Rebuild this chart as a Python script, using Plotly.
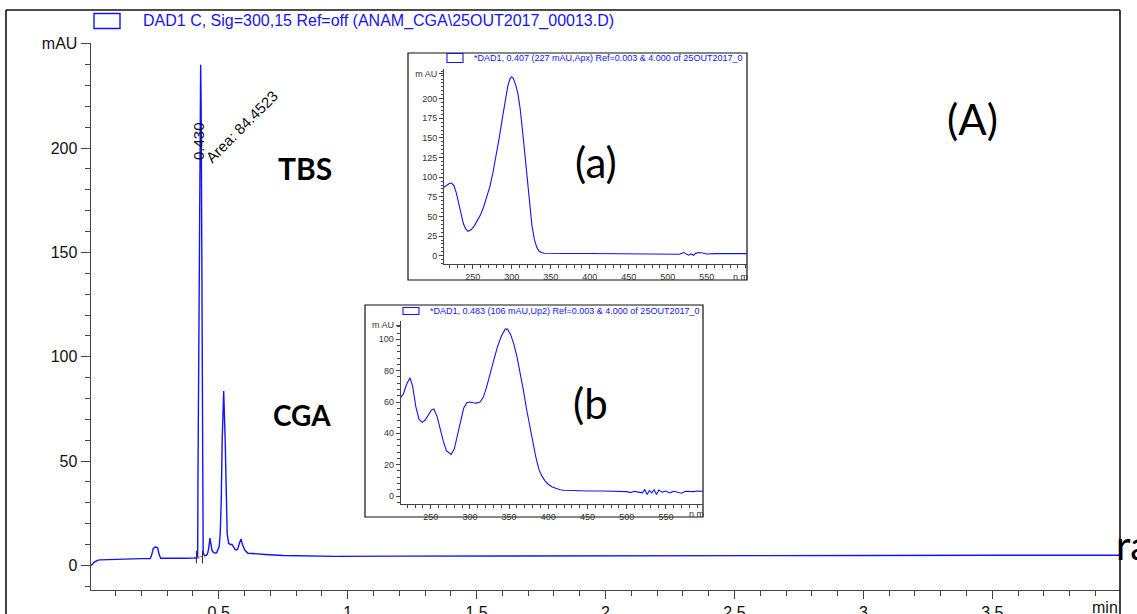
import plotly.graph_objects as go

W, H = 1137, 614

# ---------------- data ----------------
# main chromatogram (time in min, absorbance in mAU)
chrom_time = [0.0036, 0.010, 0.016, 0.022, 0.030, 0.039, 0.08, 0.14, 0.20, 0.2344, 0.2402, 0.2460,
              0.2546, 0.2635, 0.2693, 0.2752, 0.30, 0.36, 0.405, 0.4184, 0.4195, 0.4242, 0.4281,
              0.4300, 0.4319, 0.4347, 0.4366, 0.4378, 0.4397, 0.445, 0.452, 0.4565, 0.4610,
              0.4661, 0.4700, 0.4740, 0.4800, 0.4844, 0.4920, 0.4980, 0.5018, 0.5057, 0.5096,
              0.5135, 0.5193, 0.5251, 0.5290, 0.5329, 0.5387, 0.5450, 0.5516, 0.5570, 0.5640,
              0.5686, 0.5740, 0.5800, 0.5865, 0.5920, 0.6009, 0.6137, 0.64, 0.68, 0.75, 0.85,
              0.95, 1.2, 1.5, 2.0, 2.5, 3.0, 3.5, 3.995]
chrom_mau = [0.0, 0.4, 1.4, 2.0, 2.4, 2.6, 2.8, 3.0, 3.2, 3.2, 5.0, 8.0,
             8.9, 8.3, 5.0, 3.4, 3.3, 3.4, 3.5, 3.6, 40.0, 150.0, 220.0,
             240.0, 220.0, 150.0, 89.0, 20.0, 6.0, 4.6, 4.8, 5.4, 8.0,
             13.0, 9.0, 7.0, 6.2, 5.9, 6.0, 7.5, 9.0, 15.0, 30.0,
             60.0, 83.5, 60.0, 30.0, 15.0, 10.5, 10.0, 10.0, 8.8, 7.5,
             7.3, 7.8, 10.5, 12.6, 10.0, 7.3, 5.8, 5.5, 5.2, 4.7, 4.5,
             4.3, 4.4, 4.5, 4.6, 4.7, 4.7, 4.8, 4.8]

# integration baseline of the TBS peak
base_time = [0.4135, 0.4370]
base_mau = [3.5, 4.4]

# spectrum (a) : TBS apex
spec_a_nm = [213, 217, 220, 223, 226, 229, 232, 235, 238, 241, 244, 248, 252, 256, 260, 264,
             268, 272, 276, 280, 284, 288, 292, 295, 298, 300, 302, 305, 308, 311, 314, 317,
             320, 323, 326, 329, 332, 335, 338, 342, 350, 370, 400, 430, 460, 490, 500, 505,
             510, 515, 518, 521, 524, 527, 530, 533, 536, 540, 545, 550, 560, 575, 590, 601.7]
spec_a_mau = [87, 90, 92, 92.5, 89, 80, 66, 52, 41, 34, 31, 33, 38, 45, 52, 62,
              74, 88, 106, 126, 150, 175, 200, 216, 226, 228, 226, 218, 206, 186, 158, 126,
              92, 62, 38, 21, 11, 6, 4, 3.2, 2.9, 2.8, 2.8, 2.7, 2.6, 2.6, 2.2, 2.6,
              2.4, 1.8, 3.2, 4.0, 2.0, 0.6, 2.2, 0.6, 3.0, 4.0, 3.4, 2.2, 2.6, 2.8, 2.4, 2.6]

# spectrum (b) : CGA upslope
spec_b_nm = [211.7, 215, 219, 223.5, 227, 231, 235, 239, 243, 247, 251, 254, 258, 262, 266, 270,
             276, 280, 284, 288, 292, 296, 300, 304, 308, 313, 317, 321, 325, 330, 335, 340,
             345, 348, 352, 356, 360, 364, 368, 372, 376, 380, 384, 388, 392, 396, 400, 405,
             410, 415, 420, 430, 450, 470, 490, 500, 505, 510, 515, 520, 523, 526, 529, 532,
             535, 538, 541, 545, 550, 555, 560, 565, 570, 575, 585, 590, 597.3]
spec_b_mau = [63, 65, 71, 75.5, 70, 57, 49, 47, 48.5, 52, 55, 55.5, 51, 43, 35, 29,
              26.5, 30, 39, 48, 56, 59.5, 60, 59.5, 59.3, 60, 63, 69, 77, 86, 95, 102,
              106.5, 106.5, 103, 97, 89, 79, 68, 56, 45, 34, 25, 17, 12.5, 9.5, 7.5, 5.8,
              4.8, 4.0, 3.7, 3.5, 3.2, 3.2, 3.0, 2.8, 2.2, 3.0, 2.5, 2.0, 4.2, 1.0, 3.5, 2.0,
              4.0, 1.0, 3.8, 2.5, 3.2, 2.0, 3.0, 2.5, 1.8, 3.0, 2.8, 3.2, 3.0]

main_x_ticks = [0.5, 1, 1.5, 2, 2.5, 3, 3.5]
main_x_labels = ["0.5", "1", "1.5", "2", "2.5", "3", "3.5"]
main_y_ticks = [0, 50, 100, 150, 200, 250]
main_y_labels = ["0", "50", "100", "150", "200", "mAU"]
a_x_ticks = [250, 300, 350, 400, 450, 500, 550]
a_y_ticks = [0, 25, 50, 75, 100, 125, 150, 175, 200, 232]
a_y_labels = ["0", "25", "50", "75", "100", "125", "150", "175", "200", "m AU"]
b_x_ticks = [250, 300, 350, 400, 450, 500, 550]
b_y_ticks = [0, 20, 40, 60, 80, 100, 109]
b_y_labels = ["0", "20", "40", "60", "80", "100", "m AU"]


def px(x):
    return x / W


def py(y):
    return 1 - y / H


BLUE = "#1414f0"
AX = "#444444"
ARIAL = "Liberation Sans, Arial, sans-serif"
CAL = "Lato, Carlito, Calibri, sans-serif"

fig = go.Figure()
fig.add_trace(go.Scatter(x=chrom_time, y=chrom_mau, mode="lines",
                         line=dict(color=BLUE, width=1.4), xaxis="x", yaxis="y",
                         showlegend=False, hoverinfo="skip"))
fig.add_trace(go.Scatter(x=base_time, y=base_mau, mode="lines",
                         line=dict(color="#ff33cc", width=1), xaxis="x", yaxis="y",
                         showlegend=False, hoverinfo="skip"))
fig.add_trace(go.Scatter(x=spec_a_nm, y=spec_a_mau, mode="lines",
                         line=dict(color=BLUE, width=1.1), xaxis="x2", yaxis="y2",
                         showlegend=False, hoverinfo="skip"))
fig.add_trace(go.Scatter(x=spec_b_nm, y=spec_b_mau, mode="lines",
                         line=dict(color=BLUE, width=1.1), xaxis="x3", yaxis="y3",
                         showlegend=False, hoverinfo="skip"))

main_font = dict(family=ARIAL, size=16, color="#111111")
small_font = dict(family=ARIAL, size=9, color="#333333")

common = dict(showgrid=False, zeroline=False, showline=True, automargin=False, tickcolor=AX,
              linecolor=AX, ticks="outside")

fig.update_layout(
    template="none",
    width=W, height=H, margin=dict(l=0, r=0, t=0, b=0, pad=0), autosize=False,
    paper_bgcolor="white", plot_bgcolor="rgba(0,0,0,0)",
    xaxis=dict(common, domain=[px(90.7), px(1120)], range=[0.0036, 3.995],
               linewidth=1.2, ticklen=8, tickwidth=1.2,
               tickvals=main_x_ticks, ticktext=main_x_labels, tickfont=main_font,
               minor=dict(dtick=0.1, tick0=0, ticks="outside", ticklen=5, tickcolor=AX, tickwidth=1.2),
               anchor="y"),
    yaxis=dict(common, domain=[py(590), py(43)], range=[-11.84, 250.4],
               linewidth=1.2, ticklen=9, tickwidth=1.2,
               tickvals=main_y_ticks, ticktext=main_y_labels, tickfont=main_font,
               minor=dict(dtick=10, tick0=0, ticks="outside", ticklen=5, tickcolor=AX, tickwidth=1.2),
               anchor="x"),
    xaxis2=dict(common, domain=[px(444), px(747)], range=[213.2, 601.7],
                linewidth=1, ticklen=4, tickvals=a_x_ticks, tickfont=small_font,
                minor=dict(dtick=10, tick0=0, ticks="outside", ticklen=2.5, tickcolor=AX),
                anchor="y2"),
    yaxis2=dict(common, domain=[py(264), py(69)], range=[-10.57, 237.8],
                linewidth=1, ticklen=4, tickvals=a_y_ticks, ticktext=a_y_labels, tickfont=small_font,
                minor=dict(dtick=5, tick0=0, ticks="outside", ticklen=2.5, tickcolor=AX),
                anchor="x2"),
    xaxis3=dict(common, domain=[px(400.7), px(703)], range=[211.7, 597.3],
                linewidth=1, ticklen=4, tickvals=b_x_ticks, tickfont=small_font,
                minor=dict(dtick=10, tick0=0, ticks="outside", ticklen=2.5, tickcolor=AX),
                anchor="y3"),
    yaxis3=dict(common, domain=[py(504), py(321)], range=[-5.1, 111.7],
                linewidth=1, ticklen=4, tickvals=b_y_ticks, ticktext=b_y_labels, tickfont=small_font,
                minor=dict(dtick=4, tick0=0, ticks="outside", ticklen=2.5, tickcolor=AX),
                anchor="x3"),
)

shapes = []
# outer frame
for x0, y0, x1, y1 in [(6, 10, 6, 614), (6, 10, 1120, 10), (1120, 10, 1120, 614)]:
    shapes.append(dict(type="line", xref="paper", yref="paper", x0=px(x0), y0=py(y0), x1=px(x1),
                       y1=py(y1), line=dict(color="#111111", width=1.6)))
# inset frames
for x0, y0, x1, y1 in [(408, 53, 747, 280), (365, 305, 703, 517)]:
    shapes.append(dict(type="rect", xref="paper", yref="paper", x0=px(x0), y0=py(y0), x1=px(x1),
                       y1=py(y1), line=dict(color="#111111", width=1.2), fillcolor="white",
                       layer="below"))
# legend swatches
for x0, y0, x1, y1, w in [(94, 13.5, 120, 28.5, 1.4), (447, 53.5, 463, 62.5, 1.1),
                          (403, 307.5, 419, 314.5, 1.1)]:
    shapes.append(dict(type="rect", xref="paper", yref="paper", x0=px(x0), y0=py(y0), x1=px(x1),
                       y1=py(y1), line=dict(color=BLUE, width=w), fillcolor="rgba(0,0,0,0)"))
# integration tick marks
for t in base_time:
    shapes.append(dict(type="line", xref="x", yref="y", x0=t, x1=t, y0=1.0, y1=7.0,
                       line=dict(color="#222222", width=1)))
fig.update_layout(shapes=shapes)

ann = []


def txt(x, y, s, font, xanchor="center", yanchor="middle", angle=0):
    ann.append(dict(xref="paper", yref="paper", x=px(x), y=py(y), text=s, showarrow=False,
                    font=font, xanchor=xanchor, yanchor=yanchor, textangle=angle))


txt(141, 20.5, "DAD1 C, Sig=300,15 Ref=off (ANAM_CGA\\25OUT2017_00013.D)",
    dict(family=ARIAL, size=16, color=BLUE), xanchor="left")
txt(472, 58, "*DAD1, 0.407 (227 mAU,Apx) Ref=0.003 &amp; 4.000 of 25OUT2017_0",
    dict(family=ARIAL, size=9, color=BLUE), xanchor="left")
txt(428, 311, "*DAD1, 0.483 (106 mAU,Up2) Ref=0.003 &amp; 4.000 of 25OUT2017_0",
    dict(family=ARIAL, size=9, color=BLUE), xanchor="left")
txt(740, 276.5, "n m", small_font)
txt(696, 513.5, "n m", small_font)
txt(1120, 607, "min", dict(family=ARIAL, size=16, color="#111111"), xanchor="right")
txt(596, 162, "(a)", dict(family=CAL, size=42, color="black"))
txt(590, 403, "(b", dict(family=CAL, size=42, color="black"))
txt(972, 119, "(A)", dict(family=CAL, size=42, color="black"))
txt(305, 168, "<b>TBS</b>", dict(family=CAL, size=30, color="black"))
txt(302, 415, "<b>CGA</b>", dict(family=CAL, size=28, color="black"))
txt(1114, 545, "ra", dict(family=CAL, size=40, color="black"), xanchor="left")
txt(198, 141, "0.430", dict(family=ARIAL, size=15, color="#111111"), angle=-90)
txt(242, 127, "Area: 84.4523", dict(family=ARIAL, size=15, color="#111111"), angle=-45)
fig.update_layout(annotations=ann)

fig.write_html("out.html")
